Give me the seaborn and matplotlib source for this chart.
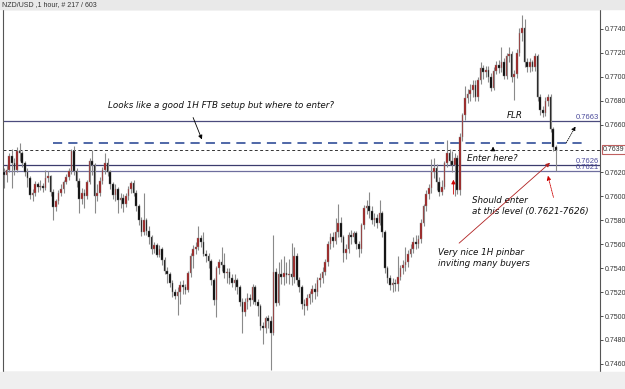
import matplotlib
matplotlib.use("Agg")
import matplotlib.pyplot as plt
from matplotlib.patches import Rectangle
import numpy as np
import pandas as pd
import seaborn as sns

# NZD/USD 1 hour candles, prices in pips (x 0.0001)
opens = [
    7620, 7618, 7622, 7634, 7628, 7622, 7638, 7636, 7628, 7620, 7615, 7601, 7603, 7610, 7608, 7609,
    7607, 7615, 7617, 7604, 7591, 7596, 7603, 7606, 7612, 7616, 7621, 7638, 7621, 7613, 7598, 7603,
    7600, 7612, 7630, 7626, 7600, 7603, 7613, 7622, 7628, 7620, 7610, 7601, 7606, 7597, 7599, 7594,
    7600, 7606, 7611, 7603, 7592, 7580, 7570, 7580, 7571, 7566, 7556, 7559, 7551, 7556, 7547, 7538,
    7535, 7528, 7520, 7517, 7520, 7526, 7524, 7522, 7536, 7550, 7556, 7558, 7565, 7562, 7552, 7550,
    7546, 7530, 7513, 7540, 7545, 7543, 7536, 7537, 7532, 7528, 7530, 7524, 7512, 7503, 7512, 7515,
    7513, 7524, 7512, 7508, 7492, 7490, 7498, 7496, 7486, 7537, 7511, 7535, 7533, 7536, 7534, 7535,
    7533, 7550, 7530, 7524, 7510, 7508, 7515, 7518, 7523, 7520, 7530, 7532, 7537, 7545, 7560, 7566,
    7563, 7570, 7578, 7566, 7553, 7556, 7568, 7566, 7569, 7560, 7556, 7576, 7590, 7592, 7588, 7580,
    7582, 7578, 7586, 7570, 7540, 7532, 7526, 7528, 7527, 7533, 7540, 7543, 7545, 7552, 7556, 7562,
    7560, 7564, 7578, 7592, 7602, 7607, 7620, 7624, 7612, 7604, 7608, 7628, 7636, 7630, 7626, 7632,
    7605, 7650, 7668, 7682, 7686, 7689, 7693, 7683, 7697, 7707, 7704, 7706, 7700, 7691, 7705, 7710,
    7707, 7712, 7701, 7717, 7719, 7700, 7702, 7720, 7737, 7741, 7712, 7708, 7712, 7708, 7717, 7683,
    7672, 7670, 7680, 7683, 7656, 7641,
]
highs = [
    7624, 7626, 7636, 7640, 7632, 7641, 7645, 7638, 7630, 7624, 7617, 7606, 7613, 7612, 7614, 7611,
    7622, 7621, 7618, 7606, 7598, 7605, 7610, 7614, 7619, 7624, 7640, 7642, 7624, 7615, 7607, 7606,
    7614, 7632, 7639, 7628, 7610, 7616, 7625, 7636, 7632, 7622, 7612, 7610, 7608, 7603, 7602, 7603,
    7609, 7613, 7614, 7605, 7594, 7583, 7603, 7582, 7575, 7568, 7562, 7561, 7559, 7558, 7549, 7541,
    7537, 7530, 7523, 7524, 7529, 7530, 7527, 7538, 7553, 7559, 7562, 7575, 7568, 7570, 7555, 7553,
    7548, 7532, 7542, 7548, 7558, 7553, 7540, 7540, 7535, 7535, 7532, 7526, 7515, 7515, 7519, 7518,
    7527, 7526, 7514, 7510, 7495, 7500, 7501, 7500, 7568, 7540, 7545, 7548, 7550, 7545, 7548, 7561,
    7558, 7553, 7533, 7526, 7514, 7518, 7521, 7526, 7528, 7533, 7536, 7541, 7548, 7563, 7569, 7570,
    7582, 7594, 7583, 7568, 7560, 7570, 7572, 7571, 7571, 7563, 7578, 7593, 7597, 7604, 7592, 7586,
    7585, 7597, 7588, 7572, 7542, 7534, 7532, 7531, 7550, 7543, 7547, 7558, 7555, 7560, 7566, 7568,
    7568, 7581, 7594, 7605, 7610, 7631, 7632, 7627, 7616, 7614, 7630, 7647, 7640, 7638, 7636, 7635,
    7653, 7670, 7692, 7690, 7694, 7697, 7697, 7700, 7712, 7710, 7709, 7709, 7703, 7708, 7713, 7714,
    7725, 7716, 7720, 7725, 7722, 7706, 7723, 7741, 7752, 7748, 7716, 7716, 7714, 7720, 7719, 7686,
    7676, 7683, 7686, 7686, 7658, 7643,
]
lows = [
    7607, 7612, 7620, 7607, 7618, 7620, 7630, 7625, 7617, 7608, 7598, 7596, 7600, 7604, 7605, 7604,
    7605, 7612, 7600, 7580, 7588, 7594, 7600, 7603, 7610, 7614, 7619, 7618, 7608, 7586, 7594, 7590,
    7598, 7610, 7618, 7586, 7596, 7600, 7610, 7619, 7617, 7606, 7598, 7596, 7586, 7590, 7587, 7591,
    7597, 7603, 7600, 7588, 7576, 7567, 7568, 7568, 7560, 7552, 7553, 7549, 7549, 7543, 7535, 7528,
    7524, 7516, 7514, 7501, 7510, 7518, 7518, 7520, 7533, 7540, 7552, 7555, 7558, 7550, 7545, 7540,
    7526, 7509, 7499, 7535, 7538, 7532, 7528, 7527, 7524, 7522, 7518, 7508, 7486, 7500, 7506, 7508,
    7510, 7509, 7500, 7488, 7477, 7486, 7490, 7455, 7484, 7508, 7509, 7527, 7526, 7528, 7527, 7526,
    7528, 7526, 7520, 7506, 7501, 7505, 7510, 7512, 7514, 7517, 7524, 7528, 7534, 7542, 7556, 7558,
    7560, 7566, 7562, 7545, 7548, 7553, 7560, 7562, 7556, 7549, 7553, 7573, 7585, 7582, 7577, 7575,
    7574, 7576, 7566, 7536, 7528, 7522, 7520, 7521, 7521, 7530, 7535, 7538, 7541, 7549, 7553, 7556,
    7557, 7561, 7575, 7588, 7598, 7603, 7615, 7605, 7600, 7601, 7606, 7625, 7626, 7620, 7600, 7602,
    7601, 7646, 7664, 7678, 7680, 7683, 7680, 7680, 7694, 7698, 7700, 7696, 7688, 7689, 7702, 7703,
    7704, 7698, 7698, 7712, 7696, 7681, 7699, 7717, 7730, 7708, 7704, 7704, 7705, 7705, 7680, 7668,
    7666, 7667, 7676, 7654, 7638, 7621,
]
closes = [
    7618, 7622, 7634, 7628, 7622, 7638, 7636, 7628, 7620, 7615, 7601, 7603, 7610, 7608, 7609, 7607,
    7615, 7617, 7604, 7591, 7596, 7603, 7606, 7612, 7616, 7621, 7638, 7621, 7613, 7598, 7603, 7600,
    7612, 7630, 7626, 7600, 7603, 7613, 7622, 7628, 7620, 7610, 7601, 7606, 7597, 7599, 7594, 7600,
    7606, 7611, 7603, 7592, 7580, 7570, 7580, 7571, 7566, 7556, 7559, 7551, 7556, 7547, 7538, 7535,
    7528, 7520, 7517, 7520, 7526, 7524, 7522, 7536, 7550, 7556, 7558, 7565, 7562, 7552, 7550, 7546,
    7530, 7513, 7540, 7545, 7543, 7536, 7537, 7532, 7528, 7530, 7524, 7512, 7503, 7512, 7515, 7513,
    7524, 7512, 7508, 7492, 7490, 7498, 7496, 7486, 7537, 7511, 7535, 7533, 7536, 7534, 7535, 7533,
    7550, 7530, 7524, 7510, 7508, 7515, 7518, 7523, 7520, 7530, 7532, 7537, 7545, 7560, 7566, 7563,
    7570, 7578, 7566, 7553, 7556, 7568, 7566, 7569, 7560, 7556, 7576, 7590, 7592, 7588, 7580, 7582,
    7578, 7586, 7570, 7540, 7532, 7526, 7528, 7527, 7533, 7540, 7543, 7545, 7552, 7556, 7562, 7560,
    7564, 7578, 7592, 7602, 7607, 7620, 7624, 7612, 7604, 7608, 7628, 7636, 7630, 7626, 7632, 7605,
    7650, 7668, 7682, 7686, 7689, 7693, 7683, 7697, 7707, 7704, 7706, 7700, 7691, 7705, 7710, 7707,
    7712, 7701, 7717, 7719, 7700, 7702, 7720, 7737, 7741, 7712, 7708, 7712, 7708, 7717, 7683, 7672,
    7670, 7680, 7683, 7656, 7641, 7639,
]

time_labels = ['17:00', '01:00', '09:00'] * 9 + ['17:00', '17:00']
# 0.7640 is hidden behind the current-price box on the axis
price_ticks = [0.7460, 0.7480, 0.7500, 0.7520, 0.7540, 0.7560, 0.7580, 0.7600,
               0.7620, 0.7660, 0.7680, 0.7700, 0.7720, 0.7740]

flr_level = 0.7663
entry_level = 0.7645
bid_level = 0.7639
zone_high = 0.7626
zone_low = 0.7621

df = pd.DataFrame({'open': opens, 'high': highs, 'low': lows, 'close': closes}) / 10000
df['bar'] = np.arange(len(df))
df['body'] = (df['close'] - df['open']).abs().clip(lower=0.00003)
df['bottom'] = df[['open', 'close']].min(axis=1)
up = df['close'] >= df['open']

sns.set_theme(style='white')
plt.rcParams['font.family'] = ['DejaVu Sans']
axis_font = ['Liberation Sans', 'DejaVu Sans']

fig = plt.figure(figsize=(6.25, 3.89), dpi=100, facecolor='white')
fig.patches.append(Rectangle((0, 1 - 9 / 389), 1, 9 / 389, transform=fig.transFigure,
                             color='#e9e9e9', zorder=0))
fig.patches.append(Rectangle((0, 0), 1, 17 / 389, transform=fig.transFigure,
                             color='#efefef', zorder=0))
fig.text(0.003, 1 - 4.5 / 389, 'NZD/USD ,1 hour, # 217 / 603', fontsize=5,
         va='center', ha='left', color='#333333', family=axis_font)

ax = fig.add_axes([3 / 625, 17 / 389, 597 / 625, 363 / 389])
ax.set_facecolor('white')

# levels
ax.axhline(flr_level, color='#4b4b7d', lw=0.9, zorder=1)
ax.axhline(zone_high, color='#3c3c6e', lw=0.9, zorder=1)
ax.axhline(zone_low, color='#6e6e9e', lw=0.9, zorder=1)
ax.axhline(bid_level, color='#333333', lw=0.7, ls=(0, (3, 2.5)), zorder=1)
ax.hlines(entry_level, 18.9, 223.5, colors='#1f3f8f', linestyles=(0, (6, 4)), lw=1.1, zorder=1)

# candles
ax.vlines(df['bar'], df['low'], df['high'], color='#8a8a8a', lw=0.8, zorder=2)
ax.bar(df['bar'][up], df['body'][up], bottom=df['bottom'][up], width=0.62,
       color='#a01818', edgecolor='#8a8a8a', lw=0.3, zorder=3)
ax.bar(df['bar'][~up], df['body'][~up], bottom=df['bottom'][~up], width=0.62,
       color='black', edgecolor='#6a6a6a', lw=0.3, zorder=3)

ax.set_xlim(-0.4, 230.1)
ax.set_ylim(0.74532, 0.77567)

ax.yaxis.tick_right()
ax.set_yticks(price_ticks)
ax.set_yticklabels([f'{v:.4f}' for v in price_ticks], family=axis_font)
ax.set_xticks([2.3 + 8 * k for k in range(28)] + [225.0])
ax.set_xticklabels(time_labels, family=axis_font)
ax.tick_params(axis='y', labelsize=5, length=2.5, width=0.6, pad=0.8, colors='#333333',
               right=True, left=False)
ax.tick_params(axis='x', labelsize=5, length=2, width=0.6, pad=2, colors='#333333',
               bottom=True)
for s in ax.spines.values():
    s.set_color('#555555')
    s.set_linewidth(0.8)

ytr = ax.get_yaxis_transform()
ax.text(0.998, flr_level, '0.7663', transform=ytr, ha='right', va='bottom',
        fontsize=5.5, color='#4b4b9b', family=axis_font)
ax.text(0.998, zone_high, '0.7626', transform=ytr, ha='right', va='bottom',
        fontsize=5.5, color='#4b4b9b', family=axis_font)
ax.text(0.998, zone_low, '0.7621', transform=ytr, ha='right', va='bottom',
        fontsize=5.5, color='#4b4b9b', family=axis_font)
ax.text(1.004, bid_level, '0.7639', transform=ytr, ha='left', va='center', fontsize=5,
        color='#333333', clip_on=False, family=axis_font,
        bbox=dict(boxstyle='square,pad=0.12', fc='white', ec='#c06060', lw=0.8))

note = dict(fontsize=6.3, style='italic', color='#111111')
ax.text(40.2, 0.76764, 'Looks like a good 1H FTB setup but where to enter?', va='center', **note)
ax.annotate('', xy=(76.8, 0.76455), xytext=(72.6, 0.76681),
            arrowprops=dict(arrowstyle='-|>', color='black', lw=0.6, mutation_scale=6))
ax.text(197.3, 0.76673, 'FLR', ha='center', va='center', **note)
ax.text(178.8, 0.76321, 'Enter here?', va='center', **note)
ax.annotate('', xy=(188.8, 0.76440), xytext=(188.8, 0.76372),
            arrowprops=dict(arrowstyle='-|>', color='black', lw=0.6, mutation_scale=6))
ax.annotate('', xy=(173.5, 0.76163), xytext=(173.5, 0.75995),
            arrowprops=dict(arrowstyle='-|>', color='#cc0000', lw=0.6, mutation_scale=6))
ax.text(180.7, 0.75962, 'Should enter', va='center', **note)
ax.text(180.7, 0.75870, 'at this level (0.7621-7626)', va='center', **note)
ax.annotate('', xy=(209.7, 0.76196), xytext=(212.4, 0.75970),
            arrowprops=dict(arrowstyle='-|>', color='#cc0000', lw=0.6, ls=(0, (1, 1)),
                            mutation_scale=6))
ax.text(167.6, 0.75535, 'Very nice 1H pinbar', va='center', **note)
ax.text(167.6, 0.75443, 'inviting many buyers', va='center', **note)
ax.annotate('', xy=(211.6, 0.76296), xytext=(174.9, 0.75594),
            arrowprops=dict(arrowstyle='-|>', color='#b02020', lw=0.6, mutation_scale=6))
ax.annotate('', xy=(221.2, 0.76606), xytext=(216.6, 0.76430),
            arrowprops=dict(arrowstyle='-|>', color='black', lw=0.6, ls=(0, (1, 1.5)),
                            mutation_scale=6))

fig.savefig('out.png', dpi=100, facecolor=fig.get_facecolor())
